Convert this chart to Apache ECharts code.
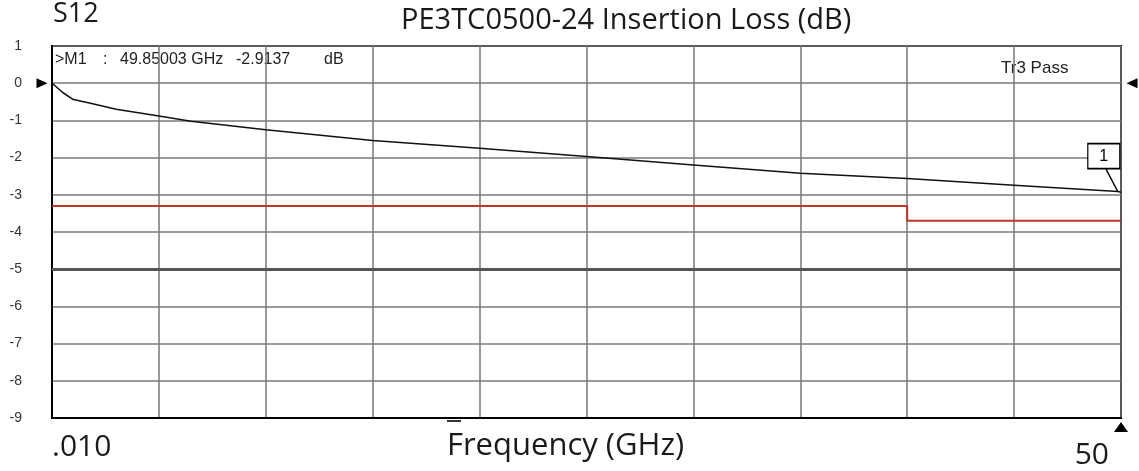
<!DOCTYPE html>
<html>
<head>
<meta charset="utf-8">
<script src="https://cdn.jsdelivr.net/npm/echarts@6/dist/echarts.min.js"></script>
<style>
  html, body { margin: 0; padding: 0; background: #fff; }
  #chart { width: 1139px; height: 471px; }
</style>
</head>
<body>
<div id="chart"></div>
<script>
// S12 trace (GHz, dB)
var freqGHz = [0.01, 0.5, 1, 1.8, 3, 5, 6.5, 10, 15, 20, 25, 30, 35, 40, 45, 49.85, 50];
var lossDb = [0, -0.25, -0.44, -0.54, -0.70, -0.88, -1.02, -1.25, -1.54, -1.75, -1.97, -2.20, -2.42, -2.56, -2.74, -2.914, -2.93];

// pass/fail limit line (steps down at 40 GHz)
var limitFreq = [0.01, 40, 40, 50];
var limitDb = [-3.3, -3.3, -3.7, -3.7];

var yTicks = [1, 0, -1, -2, -3, -4, -5, -6, -7, -8, -9];
var refLevel = -5;
var markerFreq = 49.85;
var markerDb = -2.914;

var traceData = freqGHz.map(function (f, i) { return [f, lossDb[i]]; });
var limitData = limitFreq.map(function (f, i) { return [f, limitDb[i]]; });

var smallFont = '"Liberation Sans"';

var chart = echarts.init(document.getElementById('chart'));
chart.setOption({
  animation: false,
  backgroundColor: '#fff',
  title: [
    {
      text: 'PE3TC0500-24 Insertion Loss (dB)',
      left: 396,
      top: 1,
      textStyle: { fontFamily: 'Open Sans', fontWeight: 'normal', fontSize: 29, color: '#1a1a1a' }
    },
    {
      text: 'S12',
      left: 48,
      top: -4,
      textStyle: { fontFamily: 'Open Sans', fontWeight: 'normal', fontSize: 27, color: '#1a1a1a' }
    }
  ],
  grid: {
    left: 52, right: 18, top: 46, bottom: 53,
    containLabel: false, outerBoundsMode: 'none',
    show: true, borderColor: '#000', borderWidth: 2
  },
  xAxis: {
    type: 'value',
    min: 0,
    max: 50,
    interval: 5,
    name: 'Frequency (GHz)',
    nameLocation: 'middle',
    nameGap: 13,
    nameMoveOverlap: false,
    nameTextStyle: {
      fontFamily: 'Open Sans', fontSize: 31, color: '#1a1a1a',
      padding: [0, 42, 0, 0], verticalAlign: 'top'
    },
    axisLine: { onZero: false, lineStyle: { color: '#000', width: 2 } },
    axisTick: { show: false },
    axisLabel: {
      show: true,
      margin: 14,
      fontFamily: 'Open Sans',
      fontSize: 30,
      color: '#1a1a1a',
      alignMinLabel: 'left',
      alignMaxLabel: 'right',
      rich: {
        end: { fontFamily: 'Open Sans', fontSize: 30, color: '#1a1a1a', padding: [8, 12, 0, 0] }
      },
      formatter: function (v) {
        if (v === 0) return '.010';
        if (v === 50) return '{end|50}';
        return '';
      }
    },
    splitLine: { show: true, lineStyle: { color: '#777', width: 1.5 } }
  },
  yAxis: {
    type: 'value',
    min: yTicks[yTicks.length - 1],
    max: yTicks[0],
    interval: 1,
    axisLine: { onZero: false, lineStyle: { color: '#000', width: 2 } },
    axisTick: { show: false },
    axisLabel: {
      margin: 30,
      fontFamily: 'Liberation Sans',
      fontSize: 14,
      color: '#333'
    },
    splitLine: { show: true, lineStyle: { color: '#7a7a7a', width: 1.5 } }
  },
  graphic: [
    { type: 'text', left: 55, top: 52, style: { text: '>M1', font: '16px ' + smallFont, fill: '#222' } },
    { type: 'text', left: 103, top: 52, style: { text: ':', font: '16px ' + smallFont, fill: '#222' } },
    { type: 'text', left: 120, top: 52, style: { text: '49.85003 GHz', font: '16px ' + smallFont, fill: '#222' } },
    { type: 'text', left: 236, top: 52, style: { text: '-2.9137', font: '16px ' + smallFont, fill: '#222' } },
    { type: 'text', left: 324, top: 52, style: { text: 'dB', font: '16px ' + smallFont, fill: '#222' } },
    { type: 'text', left: 1001, top: 60, style: { text: 'Tr3 Pass', font: '17px ' + smallFont, fill: '#222' } },
    { type: 'rect', left: 447, top: 420, shape: { width: 14, height: 2 }, style: { fill: '#333' } }
  ],
  series: [
    {
      name: 'limit',
      type: 'line',
      data: limitData,
      symbol: 'none',
      lineStyle: { color: '#c0352b', width: 2 },
      markLine: {
        silent: true,
        symbol: 'none',
        label: { show: false },
        lineStyle: { color: '#555', width: 3, type: 'solid' },
        data: [{ yAxis: refLevel }]
      },
      z: 3
    },
    {
      name: 'S12',
      type: 'line',
      data: traceData,
      symbol: 'none',
      lineStyle: { color: '#111', width: 1.5 },
      markPoint: {
        silent: true,
        label: { show: false },
        itemStyle: { color: '#000' },
        data: [
          { coord: [0, 0], symbol: 'triangle', symbolSize: [10, 11], symbolRotate: -90, symbolOffset: [-10, 0] },
          { coord: [50, 0], symbol: 'triangle', symbolSize: [10, 11], symbolRotate: 90, symbolOffset: [11, 0] },
          { coord: [50, -9], symbol: 'triangle', symbolSize: [14, 10], symbolOffset: [0, 9] },
          {
            coord: [markerFreq, markerDb],
            symbol: 'path://M0,0 H32 V25 H0 Z M18,25 L30,48',
            symbolSize: [32, 48],
            symbolKeepAspect: false,
            symbolOffset: [-14, -24],
            itemStyle: { color: '#fff', borderColor: '#000', borderWidth: 1.5 },
            label: {
              show: true, formatter: '1', position: 'inside', offset: [0, -11],
              color: '#000', fontFamily: 'Liberation Sans', fontSize: 16
            }
          }
        ]
      },
      z: 4
    }
  ]
});
</script>
</body>
</html>
